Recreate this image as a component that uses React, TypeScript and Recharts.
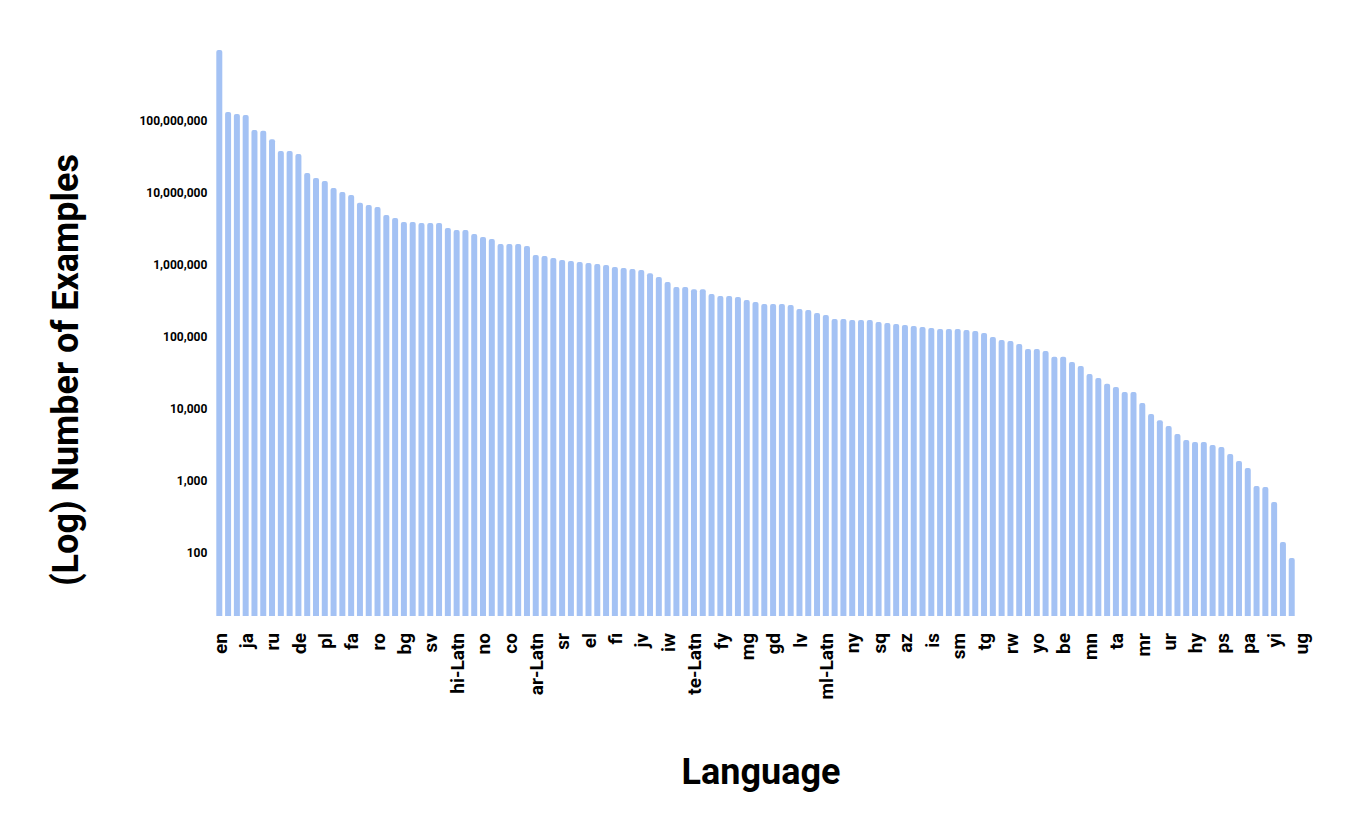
import React from 'react'
import { BarChart, Bar, XAxis, YAxis } from 'recharts'

// every 3rd language is labelled on the axis
const languages = [
  'en', 'es', 'fr', 'ja', 'pt', 'it', 'ru', 'zh', 'nl', 'de', 'tr', 'vi', 'pl', 'id', 'ko', 'fa',
  'ar', 'cs', 'ro', 'hu', 'uk', 'bg', 'th', 'da', 'sv', 'hi', 'ms', 'hi-Latn', 'sk', 'ca', 'no',
  'lt', 'fil', 'co', 'hr', 'sl', 'ar-Latn', 'et', 'bn', 'sr', 'ka', 'kk', 'el', 'mk', 'ja-Latn',
  'fi', 'gl', 'eu', 'jv', 'la', 'zh-Latn', 'iw', 'ru-Latn', 'bg-Latn', 'te-Latn', 'cy', 'el-Latn',
  'fy', 'ga', 'eo', 'mg', 'af', 'haw', 'gd', 'sw', 'ht', 'lv', 'ceb', 'ku', 'ml-Latn', 'hmn', 'ig',
  'ny', 'st', 'sn', 'sq', 'so', 'su', 'az', 'xh', 'zu', 'is', 'lb', 'uz', 'sm', 'ky', 'mt', 'tg',
  'ha', 'ne', 'rw', 'kn', 'te', 'yo', 'ml', 'si', 'be', 'gu', 'km', 'mn', 'my', 'lo', 'ta', 'or',
  'tt', 'mr', 'tk', 'am', 'ur', 'sd', 'ckb', 'hy', 'as', 'dv', 'ps', 'bo', 'ti', 'pa', 'om', 'ln',
  'yi', 'gn', 'qu', 'ug',
]

const examples: (number | null)[] = [
  970000000, 133000000, 125000000, 121000000, 75000000, 73000000, 56000000, 38300000, 38300000,
  34800000, 19000000, 16200000, 14700000, 11700000, 10300000, 9400000, 7300000, 6800000, 6400000,
  4950000, 4500000, 3960000, 3960000, 3830000, 3830000, 3830000, 3260000, 3060000, 3060000,
  2700000, 2450000, 2300000, 1960000, 1960000, 1960000, 1840000, 1380000, 1330000, 1250000,
  1170000, 1140000, 1100000, 1070000, 1030000, 1000000, 940000, 910000, 880000, 850000, 770000,
  680000, 580000, 495000, 495000, 460000, 460000, 396000, 370000, 370000, 360000, 327000, 306000,
  287000, 287000, 287000, 278000, 245000, 237000, 215000, 202000, 178000, 178000, 172000, 172000,
  172000, 162000, 156000, 152000, 147000, 142000, 138000, 133000, 129000, 129000, 129000, 125000,
  121000, 114000, 100000, 91000, 88000, 80000, 68000, 68000, 64000, 53000, 53000, 45000, 39600,
  30600, 27000, 22400, 20200, 17200, 17200, 12100, 8500, 7000, 5800, 4500, 3700, 3480, 3480, 3160,
  2970, 2370, 1900, 1520, 853, 826, 511, 142, 85, null,
]

const yTicks = [100, 1000, 10000, 100000, 1000000, 10000000, 100000000]

const data = languages.map((lang, i) => ({ lang, examples: examples[i] }))

const FONT = 'Roboto, "Noto Sans", sans-serif'

const LangTick = ({ x, y, payload }: any) => (
  <text
    x={x}
    y={y + 9}
    transform={`rotate(-90, ${x}, ${y + 9})`}
    textAnchor="end"
    dy="0.36em"
    fontFamily={FONT}
    fontWeight={700}
    fontSize={19}
    fill="#000"
  >
    {payload.value}
  </text>
)

export default function App() {
  return (
    <div style={{ position: 'relative', width: 1333, height: 819, fontFamily: FONT }}>
      <BarChart
        width={1333}
        height={819}
        data={data}
        margin={{ top: 32, right: 35.7, bottom: 91, left: 87.3 }}
      >
        <XAxis
          dataKey="lang"
          interval={2}
          axisLine={false}
          tickLine={false}
          height={120}
          tick={<LangTick />}
        />
        <YAxis
          scale="log"
          domain={[13.34, 1334000000]}
          allowDataOverflow
          ticks={yTicks}
          width={120}
          axisLine={false}
          tickLine={false}
          tickFormatter={(v: number) => v.toLocaleString('en-US')}
          tick={{ fontFamily: FONT, fontWeight: 700, fontSize: 12, fill: '#000' }}
        />
        <Bar
          dataKey="examples"
          fill="#a4c2f4"
          barSize={6}
          radius={[2, 2, 0, 0]}
          isAnimationActive={false}
        />
      </BarChart>
      <div
        style={{
          position: 'absolute',
          left: 58,
          top: 362,
          transform: 'translate(-50%, -50%) rotate(-90deg)',
          whiteSpace: 'nowrap',
          fontWeight: 700,
          fontSize: 36,
          color: '#000',
        }}
      >
        (Log) Number of Examples
      </div>
      <div
        style={{
          position: 'absolute',
          left: 753,
          top: 764,
          transform: 'translate(-50%, -50%)',
          whiteSpace: 'nowrap',
          fontWeight: 700,
          fontSize: 36,
          color: '#000',
        }}
      >
        Language
      </div>
    </div>
  )
}
